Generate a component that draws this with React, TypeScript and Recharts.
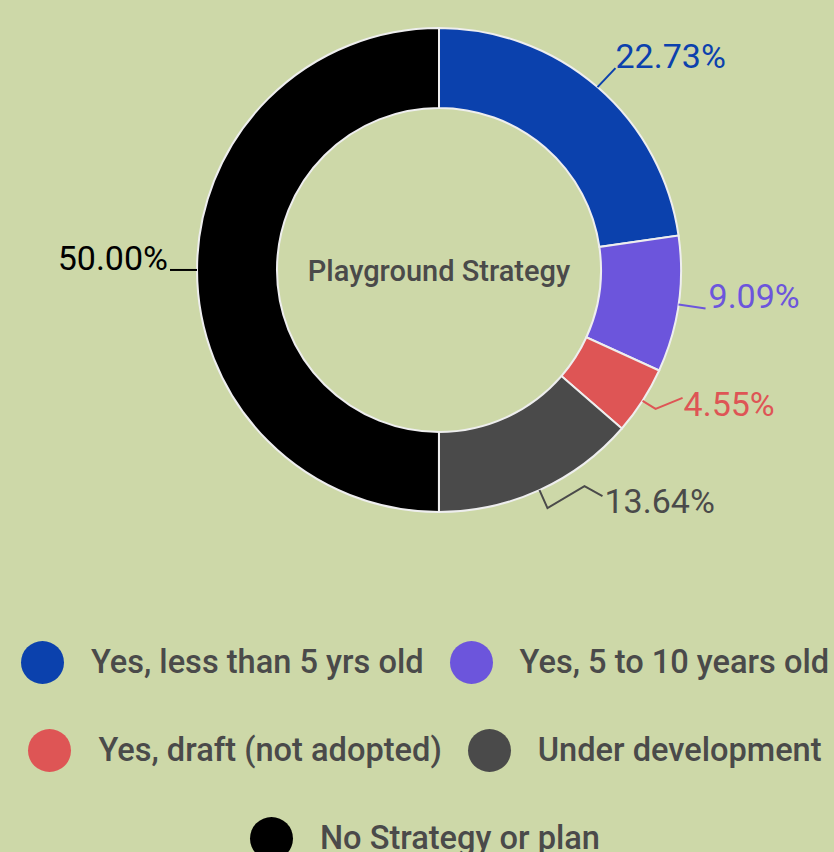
import React from "react";
import { PieChart, Pie, Cell, Legend } from "recharts";

const categories = [
  "Yes, less than 5 yrs old",
  "Yes, 5 to 10 years old",
  "Yes, draft (not adopted)",
  "Under development",
  "No Strategy or plan",
];
const values = [22.73, 9.09, 4.55, 13.64, 50.0];
const colors = ["#0b41ad", "#6c55dc", "#de5555", "#4a4a4a", "#000000"];
const labelColors = ["#0b41ad", "#6c55dc", "#de5555", "#4a4a4a", "#000000"];
const centerTitle = "Playground Strategy";

// label leader-line bends, relative to the slice's outer edge point (styling)
const leaderBends: { pts: [number, number][]; tx: number; ty: number; anchor: "start" | "end" }[] = [
  { pts: [[18, -19]], tx: 18, ty: -19, anchor: "start" },
  { pts: [[27, 4]], tx: 30, ty: 4, anchor: "start" },
  { pts: [[13, 8], [40, -3]], tx: 41, ty: 15, anchor: "start" },
  { pts: [[8, 18], [45, -4], [63, 6]], tx: 65, ty: 23, anchor: "start" },
  { pts: [[-27, 0]], tx: -29, ty: 0, anchor: "end" },
];

const data = categories.map((name, i) => ({ name, value: values[i] }));

const RAD = Math.PI / 180;

const renderLabel = (props: any) => {
  const { cx, cy, midAngle, outerRadius, index, value } = props;
  const ox = cx + outerRadius * Math.cos(-midAngle * RAD);
  const oy = cy + outerRadius * Math.sin(-midAngle * RAD);
  const b = leaderBends[index];
  const d =
    `M${ox},${oy}` + b.pts.map(([dx, dy]) => ` L${ox + dx},${oy + dy}`).join("");
  return (
    <g key={`lbl-${index}`}>
      {index === 0 && (
        <text
          x={cx}
          y={cy + 11}
          textAnchor="middle"
          fill="#4a4a4a"
          fontSize={29}
          fontWeight={500}
          fontFamily="Roboto"
        >
          {centerTitle}
        </text>
      )}
      <path d={d} stroke={labelColors[index]} strokeWidth={2} fill="none" />
      <text
        x={ox + b.tx}
        y={oy + b.ty}
        textAnchor={b.anchor}
        fill={labelColors[index]}
        fontSize={34}
        fontFamily="Roboto"
      >
        {value.toFixed(2)}%
      </text>
    </g>
  );
};

const renderLegend = () => {
  const items = categories.map((name, i) => ({ name, color: colors[i] }));
  const rows: { name: string; color: string }[][] = [];
  for (let i = 0; i < items.length; i += 2) rows.push(items.slice(i, i + 2));
  return (
    <div style={{ width: 834 }}>
      {rows.map((row, ri) => (
        <div
          key={ri}
          style={{
            display: "flex",
            justifyContent: "center",
            alignItems: "center",
            height: 88,
            whiteSpace: "nowrap",
          }}
        >
          {row.map((entry, i) => (
            <div
              key={i}
              style={{ display: "flex", alignItems: "center", margin: "0 13px" }}
            >
              <span
                style={{
                  display: "inline-block",
                  width: 43,
                  height: 43,
                  borderRadius: "50%",
                  background: entry.color,
                  marginRight: 27,
                  flexShrink: 0,
                }}
              />
              <span
                style={{
                  fontFamily: "Roboto",
                  fontWeight: 500,
                  fontSize: 32.6,
                  color: "#4a4a4a",
                }}
              >
                {entry.name}
              </span>
            </div>
          ))}
        </div>
      ))}
    </div>
  );
};

export default function App() {
  return (
    <div style={{ padding: "8px 0 0 8px", width: 834, height: 852, background: "#cdd8a8", overflow: "hidden", boxSizing: "border-box" }}>
      <style>{`html,body{margin:0;padding:0;background:#cdd8a8;overflow:hidden}`}</style>
      <PieChart width={834} height={844} margin={{ top: 0, right: 0, bottom: 0, left: 0 }}>
        <Pie
          data={data}
          dataKey="value"
          nameKey="name"
          cx={431}
          cy={262}
          innerRadius={162}
          outerRadius={242}
          startAngle={90}
          endAngle={-270}
          stroke="#eeeeee"
          strokeWidth={2}
          label={renderLabel}
          labelLine={false}
          isAnimationActive={false}
        >
          {data.map((_, i) => (
            <Cell key={i} fill={colors[i]} />
          ))}
        </Pie>
        <Legend
          content={renderLegend}
          wrapperStyle={{ position: "absolute", top: 610, left: 0, width: 834 }}
        />
      </PieChart>
    </div>
  );
}
